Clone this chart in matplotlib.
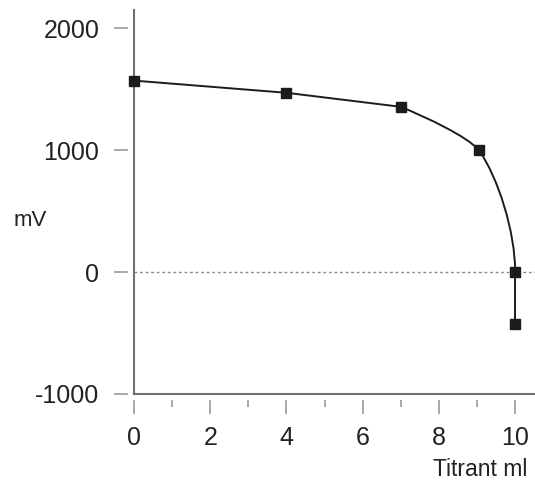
import matplotlib
matplotlib.use("Agg")
import matplotlib.pyplot as plt
from matplotlib.path import Path
from matplotlib.patches import PathPatch

# titration data
titrant_ml = [0, 4, 7, 9.05, 10, 10]
potential_mv = [1570, 1470, 1355, 1000, 0, -430]

x_major = [0, 2, 4, 6, 8, 10]
x_minor = [1, 3, 5, 7, 9]
y_major = [-1000, 0, 1000, 2000]

plt.rcParams['font.family'] = ['Liberation Sans', 'DejaVu Sans']
plt.rcParams['axes.unicode_minus'] = False

axis_col = "#707070"
tick_col = "#9a9a9a"
ink = "#1c1c1c"

fig = plt.figure(figsize=(5.35, 4.82), dpi=100)
ax = fig.add_axes([0.2505, 0.1826, 0.7495, 0.7964])

ax.set_xlim(0, 10.52)
ax.set_ylim(-1000, 2148)

# dotted zero line
ax.axhline(0, color="#8a8a8a", lw=1, ls=(0, (2, 2)), zorder=1)

# curve: straight start, bezier bend around the end point, straight drop
x, y = titrant_ml, potential_mv
ax.plot(x[:3], y[:3], color=ink, lw=1.4, zorder=2)

# handle directions (dx, dy) at the bend points
h2 = ((x[3] - x[2]), (x[3] - x[2]) * -130)     # leaving 7 ml
h3_in = (1.0, -350)                              # arriving at 9 ml
h3_out = ((x[4] - x[2]) / 2, (y[4] - y[2]) / 2)  # leaving 9 ml
h4 = (0, y[4] - y[3])                            # vertical at 10 ml
verts = [(x[2], y[2]),
         (x[2] + h2[0] / 3, y[2] + h2[1] / 3),
         (x[3] - h3_in[0] / 3, y[3] - h3_in[1] / 3),
         (x[3], y[3]),
         (x[3] + h3_out[0] / 3, y[3] + h3_out[1] / 3),
         (x[4] - h4[0] / 3, y[4] - h4[1] / 3),
         (x[4], y[4])]
codes = [Path.MOVETO] + [Path.CURVE4] * 6
ax.add_patch(PathPatch(Path(verts, codes), fill=False, ec=ink, lw=1.4,
                       zorder=2))
ax.plot(x[4:], y[4:], color=ink, lw=1.4, zorder=2)
ax.plot(x, y, ls="none", marker="s", ms=7.5, color=ink, zorder=3,
        clip_on=False)

# detached ticks
for side in ["top", "right"]:
    ax.spines[side].set_visible(False)
for side in ["left", "bottom"]:
    ax.spines[side].set_position(("outward", 4))
    ax.spines[side].set_visible(False)

ax.plot([0, 0], [0, 1], transform=ax.transAxes, color=axis_col, lw=1.5,
        clip_on=False, solid_capstyle="projecting", zorder=1)
ax.plot([0, 1], [0, 0], transform=ax.transAxes, color=axis_col, lw=1.5,
        clip_on=False, solid_capstyle="projecting", zorder=1)

ax.set_xticks(x_major)
ax.set_xticks(x_minor, minor=True)
ax.set_yticks(y_major)
ax.tick_params(axis="both", which="major", length=10, width=1.2,
               color=tick_col, labelsize=18, labelcolor="#222222")
ax.tick_params(axis="x", which="minor", length=5, width=1.2, color=tick_col)
ax.tick_params(axis="y", pad=11)
ax.tick_params(axis="x", pad=9)

fig.text(30 / 535, 1 - 221 / 482, "mV", fontsize=16, color="#222222",
         ha="center", va="center")
fig.text(527 / 535, 1 - 470 / 482, "Titrant ml", fontsize=16.5,
         color="#222222", ha="right", va="center")

fig.savefig("out.png", dpi=100)
